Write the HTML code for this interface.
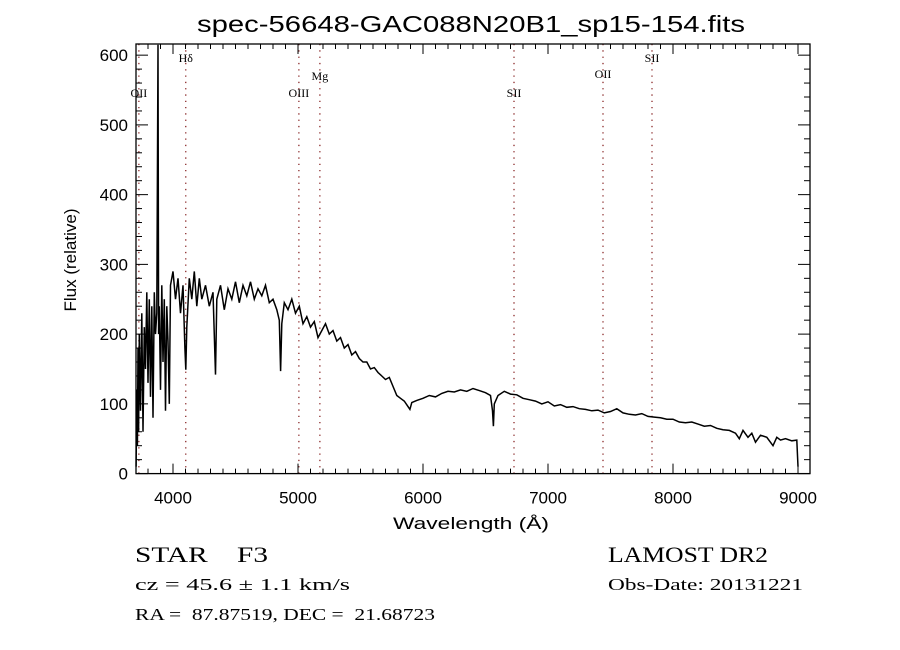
<!DOCTYPE html>
<html><head><meta charset="utf-8"><style>
body{margin:0;background:#fff}
svg{display:block}
.tk{font-family:"Liberation Sans",sans-serif;font-size:17px;fill:#000}
.ln{font-family:"Liberation Serif",serif;font-size:12px;fill:#000}
.bt{font-family:"Liberation Serif",serif;fill:#000;white-space:pre}
</style></head><body>
<svg id="chart" width="900" height="650" viewBox="0 0 900 650" xmlns="http://www.w3.org/2000/svg" xml:space="preserve">
<rect width="900" height="650" fill="#fff"/>
<text x="197" y="32" class="tk" style="font-size:23px" textLength="548" lengthAdjust="spacingAndGlyphs">spec-56648-GAC088N20B1_sp15-154.fits</text>
<g id="marks"></g>
<text transform="translate(76,260) rotate(-90)" text-anchor="middle" class="tk">Flux (relative)</text>
<text x="393" y="529" class="tk" textLength="156" lengthAdjust="spacingAndGlyphs">Wavelength (Å)</text>
<text x="135" y="562" class="bt" style="font-size:22px" textLength="133" lengthAdjust="spacingAndGlyphs">STAR    F3</text>
<text x="135" y="590" class="bt" style="font-size:17px" textLength="215" lengthAdjust="spacingAndGlyphs">cz = 45.6 ± 1.1 km/s</text>
<text x="135" y="620" class="bt" style="font-size:17px" textLength="300" lengthAdjust="spacingAndGlyphs">RA =  87.87519, DEC =  21.68723</text>
<text x="608" y="562" class="bt" style="font-size:22px" textLength="160" lengthAdjust="spacingAndGlyphs">LAMOST DR2</text>
<text x="608" y="590" class="bt" style="font-size:17px" textLength="195" lengthAdjust="spacingAndGlyphs">Obs-Date: 20131221</text>
</svg>
<script>
const wavelengths=[3705,3710,3715,3720,3725,3730,3740,3750,3760,3770,3780,3790,3800,3810,3820,3830,3840,3850,3860,3870,3880,3885,3890,3900,3910,3920,3930,3940,3950,3960,3970,3980,4000,4020,4040,4060,4080,4095,4102,4110,4130,4150,4170,4190,4210,4230,4260,4290,4320,4340,4350,4380,4410,4440,4470,4500,4530,4560,4590,4620,4650,4680,4710,4740,4770,4800,4830,4850,4861,4870,4890,4920,4950,4980,5010,5040,5070,5100,5130,5160,5190,5220,5250,5280,5310,5340,5370,5400,5430,5460,5490,5520,5550,5580,5610,5640,5670,5700,5730,5760,5790,5820,5850,5880,5895,5910,5950,6000,6050,6100,6150,6200,6250,6300,6350,6400,6450,6500,6540,6556,6563,6570,6600,6650,6700,6750,6800,6850,6900,6950,7000,7050,7100,7150,7200,7250,7300,7350,7400,7450,7500,7550,7600,7650,7700,7750,7800,7850,7900,7950,8000,8050,8100,8150,8200,8250,8300,8350,8400,8450,8500,8530,8560,8600,8630,8660,8700,8750,8800,8830,8860,8900,8950,8990,9000];
const flux=[10,120,40,180,60,200,90,230,60,210,150,260,130,250,110,240,80,260,200,230,615,200,240,120,270,160,250,90,240,190,100,270,290,250,280,230,270,180,149,210,280,250,290,240,280,250,270,240,260,142,250,270,235,265,250,275,245,270,255,275,250,265,255,270,245,250,235,220,147,215,245,235,250,230,240,215,225,210,218,195,205,215,200,205,190,195,180,185,170,175,165,160,160,150,152,145,140,135,138,125,112,108,104,96,92,102,105,108,112,110,115,118,117,120,118,122,119,116,112,90,68,100,112,118,114,113,108,106,104,100,103,97,99,95,96,93,92,90,91,87,89,93,87,85,84,86,82,81,80,78,78,74,73,74,71,68,69,65,63,62,58,50,62,52,58,45,55,52,40,52,48,50,47,48,10];
const xTicks=[4000,5000,6000,7000,8000,9000];
const yTicks=[0,100,200,300,400,500,600];
const lineNames=["OII","Hδ","OIII","Mg","SII","OII","SII"];
const lineWaves=[3727,4102,5007,5175,6728,7440,7832];
const lineLabelY=[97,62,97,80,97,78,62];

const L=136,R=810,T=44,B=473.6;
const X0=3704,X1=9096,Y0=0,Y1=616;
const sx=v=>L+(v-X0)/(X1-X0)*(R-L);
const sy=v=>B-(v-Y0)/(Y1-Y0)*(B-T);
const NS="http://www.w3.org/2000/svg";
const g=document.getElementById('marks');
function mk(t,a){const e=document.createElementNS(NS,t);for(const k in a)e.setAttribute(k,a[k]);g.appendChild(e);return e;}

lineWaves.forEach((w,i)=>{
  const l=mk('line',{x1:sx(w),x2:sx(w),y1:T,y2:B,stroke:'#8b2a2a','stroke-width':1.3,'stroke-dasharray':'1.3 5'});
  
  
  const t=mk('text',{x:sx(w),y:lineLabelY[i],'text-anchor':'middle',class:'ln'});
  t.textContent=lineNames[i];
  
  
});

const p=mk('polyline',{points:wavelengths.map((w,i)=>sx(w).toFixed(1)+','+sy(flux[i]).toFixed(1)).join(' '),fill:'none',stroke:'#000','stroke-width':1.5});



const f=mk('rect',{x:L,y:T,width:R-L,height:B-T,fill:'none',stroke:'#000','stroke-width':1.3});



for(let v=3800;v<=9000;v+=100){
  const maj=v%1000===0,len=maj?10:5;
  mk('line',{x1:sx(v),x2:sx(v),y1:B,y2:B-len,stroke:'#000','stroke-width':1});
  mk('line',{x1:sx(v),x2:sx(v),y1:T,y2:T+len,stroke:'#000','stroke-width':1});
}
xTicks.forEach(v=>{
  const t=mk('text',{x:sx(v),y:B+30,'text-anchor':'middle',class:'tk'});
  t.textContent=v;
  
  
});
for(let v=0;v<=616;v+=20){
  const maj=v%100===0,len=maj?12:6;
  mk('line',{x1:L,x2:L+len,y1:sy(v),y2:sy(v),stroke:'#000','stroke-width':1});
  mk('line',{x1:R,x2:R-len,y1:sy(v),y2:sy(v),stroke:'#000','stroke-width':1});
}
yTicks.forEach(v=>{
  const t=mk('text',{x:L-8,y:sy(v)+6,'text-anchor':'end',class:'tk'});
  t.textContent=v;
  
  
});
</script>
</body></html>
